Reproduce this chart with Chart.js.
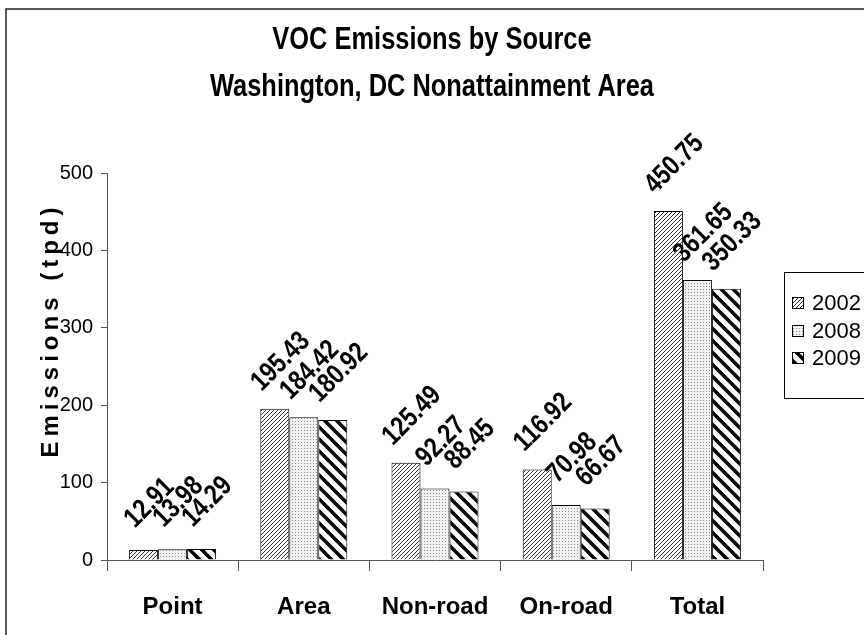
<!DOCTYPE html>
<html>
<head>
<meta charset="utf-8">
<script src="https://cdn.jsdelivr.net/npm/chart.js@4"></script>
<style>
  html, body { margin: 0; padding: 0; background: #fff; }
  #wrap { width: 864px; height: 635px; }
</style>
</head>
<body>
<div id="wrap"><canvas id="myChart" width="864" height="635"></canvas></div>
<script>
const categories = ['Point', 'Area', 'Non-road', 'On-road', 'Total'];
const years = ['2002', '2008', '2009'];
const values2002 = [12.91, 195.43, 125.49, 116.92, 450.75];
const values2008 = [13.98, 184.42, 92.27, 70.98, 361.65];
const values2009 = [14.29, 180.92, 88.45, 66.67, 350.33];
const yTicks = [0, 100, 200, 300, 400, 500];
const titleLines = ['VOC Emissions by Source', 'Washington, DC Nonattainment Area'];

const FONT = '"Liberation Sans", Arial, sans-serif';
const SQUEEZE = 0.82; // no narrow font here, so squeeze the big text a bit

// fill patterns like the old excel hatches
function tile(w, h, draw) {
  const c = document.createElement('canvas');
  c.width = w; c.height = h;
  const g = c.getContext('2d');
  draw(g, w, h);
  return g.createPattern(c, 'repeat');
}

const hatch2002 = tile(4, 4, (g, w, h) => {
  g.fillStyle = '#fff';
  g.fillRect(0, 0, w, h);
  g.strokeStyle = '#333';
  g.lineWidth = 1;
  for (let k = -1; k <= 1; k++) {
    g.beginPath();
    g.moveTo(k * 4 - 1, h + 1);
    g.lineTo(k * 4 + w + 1, -1);
    g.stroke();
  }
});

const dots2008 = tile(3, 3, (g, w, h) => {
  g.fillStyle = '#f2f2f2';
  g.fillRect(0, 0, w, h);
  g.fillStyle = '#888';
  g.fillRect(1, 1, 1, 1);
});

const stripes2009 = tile(12, 12, (g, w, h) => {
  g.fillStyle = '#fff';
  g.fillRect(0, 0, w, h);
  g.strokeStyle = '#000';
  g.lineWidth = 3.5;
  for (let k = -1; k <= 1; k++) {
    g.beginPath();
    g.moveTo(k * 12 - 2, -2);
    g.lineTo(k * 12 + w + 2, h + 2);
    g.stroke();
  }
});

const fills = [hatch2002, dots2008, stripes2009];

const extras = {
  id: 'extras',
  beforeDraw(chart) {
    const ctx = chart.ctx;
    ctx.save();
    ctx.fillStyle = '#fff';
    ctx.fillRect(0, 0, chart.width, chart.height);
    ctx.strokeStyle = '#222';
    ctx.lineWidth = 1.5;
    ctx.strokeRect(6, 9, 900, 700);

    // title, two lines
    ctx.fillStyle = '#000';
    ctx.font = 'bold 31px ' + FONT;
    ctx.textAlign = 'center';
    ctx.textBaseline = 'middle';
    [40, 87].forEach((y, i) => {
      ctx.save();
      ctx.translate(432, y);
      ctx.scale(SQUEEZE, 1);
      ctx.fillText(titleLines[i], 0, 0);
      ctx.restore();
    });
    ctx.restore();
  },
  afterDatasetsDraw(chart) {
    const ctx = chart.ctx;
    ctx.save();
    // value labels, turned 45 degrees
    ctx.font = 'bold 28px ' + FONT;
    ctx.fillStyle = '#000';
    ctx.textAlign = 'center';
    ctx.textBaseline = 'middle';
    chart.data.datasets.forEach((ds, i) => {
      chart.getDatasetMeta(i).data.forEach((bar, j) => {
        ctx.save();
        ctx.translate(bar.x + 6, bar.y - 47);
        ctx.rotate(-Math.PI / 4);
        ctx.scale(SQUEEZE, 1);
        ctx.fillText(ds.data[j].toFixed(2), 0, 0);
        ctx.restore();
      });
    });

    // y title
    ctx.save();
    ctx.font = 'bold 24px ' + FONT;
    ctx.letterSpacing = '5px';
    ctx.translate(51, 330);
    ctx.rotate(-Math.PI / 2);
    ctx.fillText('Emissions (tpd)', 0, 0);
    ctx.restore();

    // legend box
    ctx.strokeStyle = '#000';
    ctx.lineWidth = 1;
    ctx.strokeRect(784.5, 272.5, 200, 126);
    ctx.font = '22px ' + FONT;
    ctx.textAlign = 'left';
    const ys = [303, 331, 358];
    years.forEach((y, i) => {
      ctx.fillStyle = fills[i];
      ctx.fillRect(792, ys[i] - 6, 12, 12);
      ctx.strokeRect(792.5, ys[i] - 5.5, 11, 11);
      ctx.fillStyle = '#000';
      ctx.fillText(y, 812, ys[i] + 1);
    });
    ctx.restore();
  }
};

const data = {
  labels: categories,
  datasets: [
    { label: years[0], data: values2002 },
    { label: years[1], data: values2008 },
    { label: years[2], data: values2009 },
  ].map((d, i) => Object.assign(d, {
    backgroundColor: fills[i],
    borderColor: '#000',
    borderWidth: 1,
    borderSkipped: 'bottom',
    barPercentage: 1.0,
    categoryPercentage: 0.663,
  }))
};

const config = {
  type: 'bar',
  data: data,
  plugins: [extras],
  options: {
    responsive: false,
    animation: false,
    layout: { padding: { left: 0, right: 101, top: 173, bottom: 0 } },
    plugins: {
      legend: { display: false },
      tooltip: { enabled: false },
      title: { display: false }
    },
    scales: {
      x: {
        grid: { drawOnChartArea: false, tickLength: 11, color: '#555', offset: true },
        border: { color: '#555', width: 1 },
        ticks: {
          color: '#000',
          padding: 22,
          autoSkip: false,
          maxRotation: 0,
          font: { family: FONT, size: 24, weight: 'bold' },
        },
        afterFit(scale) { scale.height = 75; }
      },
      y: {
        min: 0,
        max: 500,
        afterBuildTicks(scale) { scale.ticks = yTicks.map(v => ({ value: v })); },
        grid: { drawOnChartArea: false, tickLength: 6, color: '#555' },
        border: { color: '#555', width: 1 },
        ticks: {
          color: '#000',
          padding: 8,
          font: { family: FONT, size: 20 },
        },
        afterFit(scale) { scale.width = 107; }
      }
    }
  }
};

const myChart = new Chart(document.getElementById('myChart'), config);
</script>
</body>
</html>
